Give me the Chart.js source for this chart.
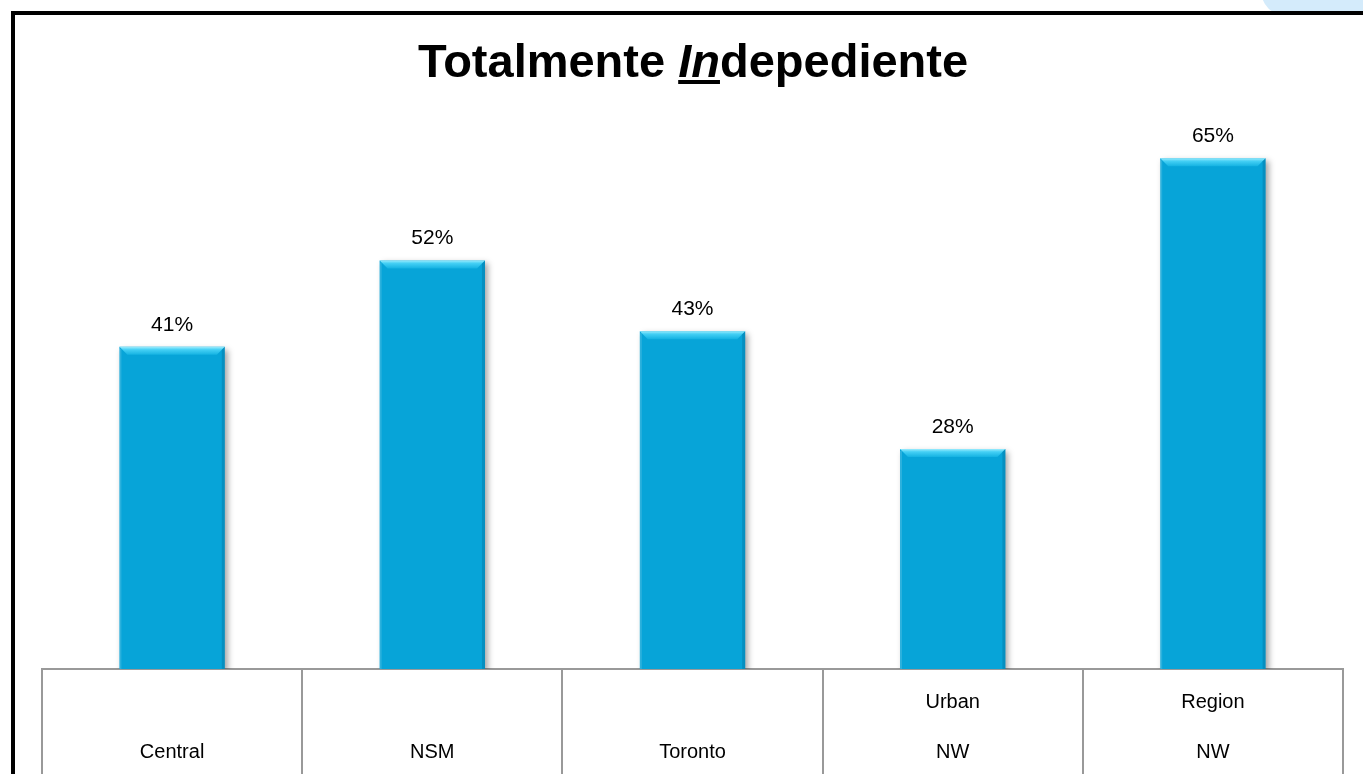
<!DOCTYPE html>
<html>
<head>
<meta charset="utf-8">
<script src="https://cdn.jsdelivr.net/npm/chart.js@4"></script>
<style>
  html, body { margin: 0; padding: 0; background: #fff; overflow: hidden; }
  .wrap { position: relative; width: 1363px; height: 774px; }
  .blob { position: absolute; left: 1262px; top: -40px; width: 170px; height: 70px; border-radius: 50%; background: #d4ebfb; }
  .frame { position: absolute; left: 11px; top: 11px; width: 1380px; height: 800px; border: 4px solid #000; box-sizing: border-box; background: #fff; }
  .title { position: absolute; left: 0; width: 1386px; top: 33px; text-align: center; font: bold 47px "Liberation Sans", Arial, sans-serif; color: #000; z-index: 2; }
  .title i { text-decoration: underline; }
  canvas { position: absolute; left: 0; top: 0; z-index: 1; }
</style>
</head>
<body>
<div class="wrap">
  <div class="blob"></div>
  <div class="frame"></div>
  <div class="title">Totalmente <i>In</i>depediente</div>
  <canvas id="chart" width="1363" height="774"></canvas>
</div>
<script>
const categories = [['', 'Central'], ['', 'NSM'], ['', 'Toronto'], ['Urban', 'NW'], ['Region', 'NW']];
const values = [41, 52, 43, 28, 65];
const valueLabels = ['41%', '52%', '43%', '28%', '65%'];

const barColor = '#07a4d8';

// shadow under the bars
const barShadow = {
    id: 'barShadow',
    beforeDatasetDraw(chart) {
        const ctx = chart.ctx;
        ctx.save();
        ctx.shadowColor = 'rgba(0,0,0,0.35)';
        ctx.shadowBlur = 6;
        ctx.shadowOffsetX = 3;
        ctx.shadowOffsetY = 3;
    },
    afterDatasetDraw(chart) {
        chart.ctx.restore();
    }
};

// bevel on top of bars + value labels
const barDecor = {
    id: 'barDecor',
    afterDatasetsDraw(chart) {
        const ctx = chart.ctx;
        const meta = chart.getDatasetMeta(0);
        meta.data.forEach((bar, i) => {
            const left = bar.x - bar.width / 2;
            const right = bar.x + bar.width / 2;
            const top = bar.y;
            const b = 8;
            ctx.save();
            // top bevel
            let g = ctx.createLinearGradient(0, top, 0, top + b);
            g.addColorStop(0, '#9cecfd');
            g.addColorStop(0.35, '#45d0f5');
            g.addColorStop(1, '#14b2e2');
            ctx.fillStyle = g;
            ctx.beginPath();
            ctx.moveTo(left, top);
            ctx.lineTo(right, top);
            ctx.lineTo(right - b, top + b);
            ctx.lineTo(left + b, top + b);
            ctx.closePath();
            ctx.fill();
            // right edge darker
            ctx.fillStyle = 'rgba(0,80,120,0.25)';
            ctx.beginPath();
            ctx.moveTo(right, top);
            ctx.lineTo(right, bar.base);
            ctx.lineTo(right - 3, bar.base);
            ctx.lineTo(right - 3, top + 3);
            ctx.closePath();
            ctx.fill();
            // left edge lighter
            ctx.fillStyle = 'rgba(255,255,255,0.15)';
            ctx.fillRect(left, top + 2, 2, bar.base - top - 2);
            // value label
            ctx.fillStyle = '#000';
            ctx.font = '21px "Liberation Sans", Arial, sans-serif';
            ctx.textAlign = 'center';
            ctx.textBaseline = 'alphabetic';
            ctx.fillText(valueLabels[i], bar.x, top - 16);
            ctx.restore();
        });
    }
};

new Chart(document.getElementById('chart'), {
    type: 'bar',
    data: {
        labels: categories,
        datasets: [{
            data: values,
            backgroundColor: barColor,
            borderWidth: 0,
            categoryPercentage: 1,
            barPercentage: 0.405
        }]
    },
    options: {
        responsive: false,
        animation: false,
        layout: { padding: { left: 42, right: 20, top: 119, bottom: 0 } },
        plugins: {
            legend: { display: false },
            tooltip: { enabled: false }
        },
        scales: {
            y: {
                display: false,
                min: 0,
                max: 70
            },
            x: {
                offset: true,
                afterFit(scale) { scale.height = 105; },
                grid: {
                    offset: true,
                    drawOnChartArea: false,
                    drawTicks: true,
                    tickLength: 105,
                    color: '#999',
                    lineWidth: 2
                },
                border: { display: true, color: '#999', width: 2 },
                ticks: {
                    padding: -97,
                    color: '#000',
                    maxRotation: 0,
                    autoSkip: false,
                    font: { family: '"Liberation Sans", Arial, sans-serif', size: 20, lineHeight: 2.5 }
                }
            }
        }
    },
    plugins: [barShadow, barDecor]
});
</script>
</body>
</html>
